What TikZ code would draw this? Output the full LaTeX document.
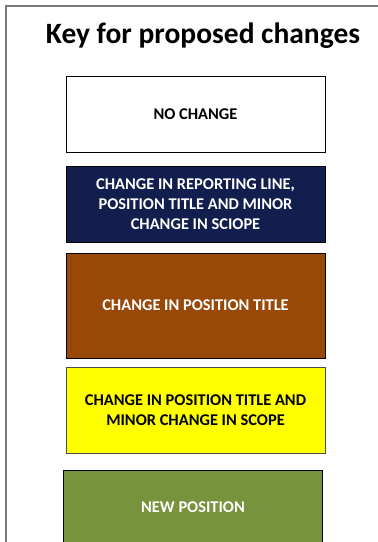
\documentclass[tikz,border=0pt]{standalone}
\usepackage{fontspec}
\setmainfont{Carlito}
\definecolor{navyblue}{HTML}{111E4E}
\definecolor{rustbrown}{HTML}{984807}
\definecolor{olivegreen}{HTML}{77933C}
\definecolor{keyyellow}{HTML}{FFFF00}
\begin{document}
\begin{tikzpicture}[x=1pt,y=-1pt,
  keybox/.style={draw=black,line width=0.9pt,minimum width=259pt,inner sep=0pt,
    align=center,font=\fontsize{16.4}{19.8}\selectfont\bfseries},
  whitetext/.style={text=white}]
\useasboundingbox (0,0) rectangle (378,542);
% outer frame
\draw[gray!95!black,line width=2pt] (6,560) -- (6,6) -- (400,6);
\node[anchor=base,font=\fontsize{29.5}{32}\selectfont\bfseries] (title) at (203,43){Key for proposed changes};
% key boxes
\node[keybox,fill=white,minimum height=76pt] (nochange) at (195.5,114){NO CHANGE};
\node[keybox,whitetext,fill=navyblue,minimum height=76pt] (reporting) at (195.5,204)
  {CHANGE IN REPORTING LINE,\\POSITION TITLE AND MINOR\\CHANGE IN SCIOPE};
\node[keybox,whitetext,fill=rustbrown,minimum height=105pt] (title change) at (195.5,305.5){CHANGE IN POSITION TITLE};
\node[keybox,draw=black!70,fill=keyyellow,minimum height=86pt] (scope) at (195.5,410)
  {CHANGE IN POSITION TITLE AND\\MINOR CHANGE IN SCOPE};
\node[keybox,whitetext,fill=olivegreen,minimum height=75pt] (newpos) at (193,507.5){NEW POSITION};
\end{tikzpicture}
\end{document}
